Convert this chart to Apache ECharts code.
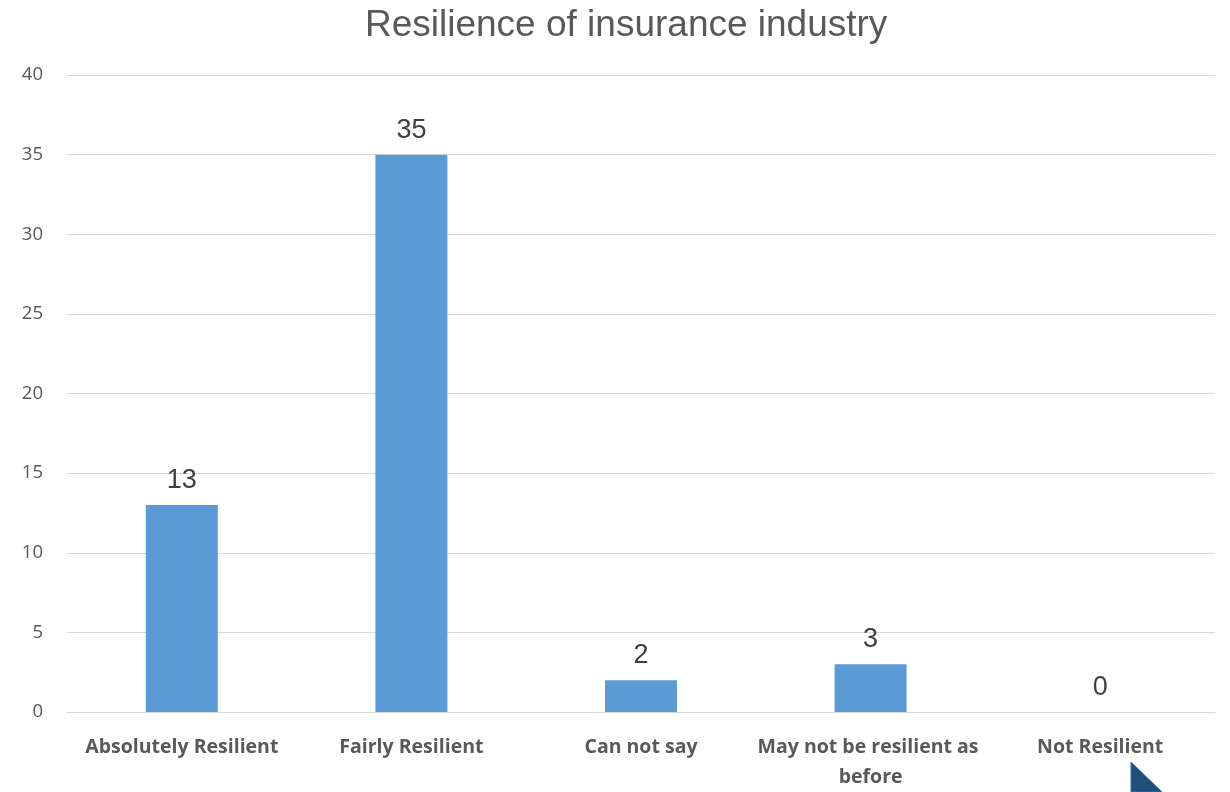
<!DOCTYPE html>
<html><head><meta charset="utf-8">
<script src="https://cdn.jsdelivr.net/npm/echarts@6/dist/echarts.min.js"></script>
<style>html,body{margin:0;padding:0;background:#fff}#c{width:1230px;height:792px}</style>
</head><body><div id="c"></div>
<script>
const titleText = 'Resilience of insurance industry';
const categories = ['Absolutely Resilient', 'Fairly Resilient', 'Can not say', 'May not be resilient as before', 'Not Resilient'];
const values = [13, 35, 2, 3, 0];
const chart = echarts.init(document.getElementById('c'));
chart.setOption({
  animation: false,
  title: { text: titleText, left: 360, top: 2, textStyle: { fontFamily: 'Liberation Sans', fontSize: 37, fontWeight: 'normal', color: '#595959' } },
  grid: { left: 67, right: 15, top: 75, bottom: 77, containLabel: false },
  xAxis: {
    type: 'category', data: categories,
    axisLine: { lineStyle: { color: '#d9d9d9', width: 1 } },
    axisTick: { show: false },
    axisLabel: { interval: 0, color: '#595959', fontFamily: 'Open Sans', fontWeight: 'bold', fontSize: 19.5, margin: 20, width: 228, overflow: 'break', lineHeight: 30 }
  },
  yAxis: {
    type: 'value', min: 0, max: 40, interval: 5,
    axisLine: { show: false }, axisTick: { show: false },
    splitLine: { lineStyle: { color: '#d9d9d9', width: 1 } },
    axisLabel: { color: '#595959', fontFamily: 'Open Sans', fontSize: 18.5, margin: 24 }
  },
  series: [{
    type: 'bar', data: values, barWidth: 72,
    itemStyle: { color: '#5b9bd5' },
    label: { show: true, position: 'top', distance: 11, color: '#404040', fontFamily: 'Liberation Sans', fontSize: 27 }
  }],
  graphic: [{
    type: 'polygon', shape: { points: [[1131, 762], [1131, 792], [1162, 792]] },
    style: { fill: '#1f4e79', stroke: '#2e75b6', lineWidth: 1 }
  }]
});
</script></body></html>
